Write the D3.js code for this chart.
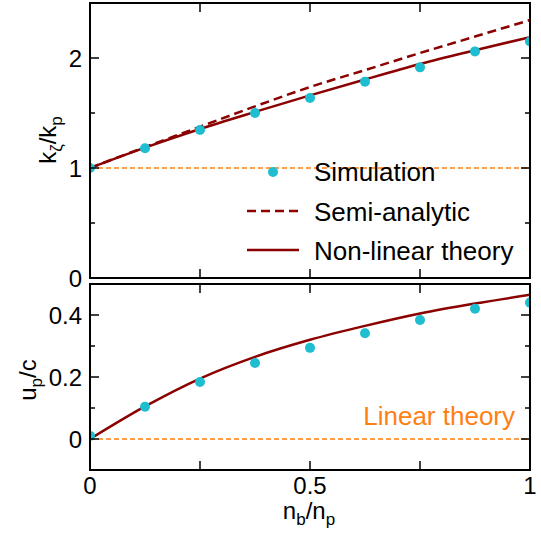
<!DOCTYPE html>
<html>
<head>
<meta charset="utf-8">
<script src="https://cdn.jsdelivr.net/npm/d3@7"></script>
<style>
  body { margin: 0; background: #fff; }
  text { font-family: "Liberation Sans", Arial, sans-serif; fill: #000; }
</style>
</head>
<body>
<svg id="vis" width="541" height="536"></svg>
<script>
// data
const nb = [0, 0.125, 0.25, 0.375, 0.5, 0.625, 0.75, 0.875, 1];
const simK = [1.0, 1.18, 1.345, 1.5, 1.636, 1.785, 1.915, 2.06, 2.15];
const simU = [0.01, 0.104, 0.184, 0.245, 0.294, 0.341, 0.384, 0.42, 0.44];
const semiK = [1.0, 1.19, 1.375, 1.56, 1.736, 1.89, 2.045, 2.195, 2.345];
const nlK = [1.0, 1.185, 1.355, 1.51, 1.66, 1.805, 1.945, 2.07, 2.19];
const nlU = [0.0, 0.105, 0.195, 0.265, 0.32, 0.365, 0.405, 0.437, 0.465];
const xTickLabels = [0, 0.5, 1];
const kTickLabels = [0, 1, 2];
const uTickLabels = [0, 0.2, 0.4];
const legendItems = ['Simulation', 'Semi-analytic', 'Non-linear theory'];

const cyan = '#1ebdcf', red = '#8b0000', orange = '#ff8012';

let vis = d3.select('#vis');

const x = d3.scaleLinear().domain([0, 1]).range([90, 530]);
const yK = d3.scaleLinear().domain([0, 2.5]).range([278, 3]);
const yU = d3.scaleLinear().domain([-0.1, 0.5]).range([470, 284]);

// one panel: clip, reference line, curves, points, frame + ticks
const drawPanel = (id, y, refVal, curves, sim, yMajor, yMinor, yLabels) => {
  const [y0, y1] = y.range();
  const g = vis.append('g').attr('id', id);

  vis.append('clipPath').attr('id', id + '-clip')
    .append('rect')
    .attr('x', x(0)).attr('y', y1)
    .attr('width', x(1) - x(0)).attr('height', y0 - y1);

  const plot = g.append('g').attr('clip-path', `url(#${id}-clip)`);

  plot.append('line')
    .attr('x1', x(0)).attr('x2', x(1))
    .attr('y1', y(refVal)).attr('y2', y(refVal))
    .attr('stroke', orange).attr('stroke-width', 1.3)
    .attr('stroke-dasharray', '5,3');

  const line = d3.line().x((d, i) => x(nb[i])).y(d => y(d)).curve(d3.curveMonotoneX);
  curves.forEach(c => {
    plot.append('path')
      .attr('d', line(c.values))
      .attr('fill', 'none')
      .attr('stroke', red)
      .attr('stroke-width', 2.5)
      .attr('stroke-dasharray', c.dash);
  });

  plot.selectAll('circle')
    .data(sim)
    .enter()
    .append('circle')
    .attr('cx', (d, i) => x(nb[i]))
    .attr('cy', d => y(d))
    .attr('r', 5)
    .attr('fill', cyan);

  // inward ticks on all four sides
  const frame = g.append('g').attr('stroke', '#000');
  const tick = (x1, y1, x2, y2, w) => frame.append('line')
    .attr('x1', x1).attr('y1', y1).attr('x2', x2).attr('y2', y2)
    .attr('stroke-width', w || 1.5);

  [0.25, 0.5, 0.75].forEach(v => {
    tick(x(v), y0, x(v), y0 - 9);
    tick(x(v), y1, x(v), y1 + 9);
  });
  yMajor.forEach(v => {
    tick(x(0), y(v), x(0) + 9, y(v));
    tick(x(1), y(v), x(1) - 9, y(v));
  });
  yMinor.forEach(v => {
    tick(x(0), y(v), x(0) + 5, y(v));
    tick(x(1), y(v), x(1) - 5, y(v));
  });

  frame.append('rect')
    .attr('x', x(0)).attr('y', y1)
    .attr('width', x(1) - x(0)).attr('height', y0 - y1)
    .attr('fill', 'none').attr('stroke-width', 2);

  g.selectAll('text.ylab')
    .data(yLabels)
    .enter()
    .append('text')
    .attr('class', 'ylab')
    .attr('x', 82)
    .attr('y', d => y(d))
    .attr('dy', '0.36em')
    .attr('text-anchor', 'end')
    .attr('font-size', 24)
    .text(d => d);

  return g;
};

drawPanel('top', yK, 1,
  [{ values: semiK, dash: '9,5' }, { values: nlK, dash: null }],
  simK, [1, 2], [0.5, 1.5], kTickLabels);

drawPanel('bottom', yU, 0,
  [{ values: nlU, dash: null }],
  simU, [0, 0.2, 0.4], [0.1, 0.3], uTickLabels);

// x tick labels
vis.selectAll('text.xlab')
  .data(xTickLabels)
  .enter()
  .append('text')
  .attr('class', 'xlab')
  .attr('x', d => x(d))
  .attr('y', 494)
  .attr('text-anchor', 'middle')
  .attr('font-size', 24)
  .text(d => d);

// axis titles
const sub = (t, main, s) => {
  t.append('tspan').text(main);
  t.append('tspan').attr('font-size', 17).attr('dy', 6).text(s);
  t.append('tspan').attr('dy', -6).text('/');
};

let xt = vis.append('text').attr('x', 309).attr('y', 519)
  .attr('text-anchor', 'middle').attr('font-size', 24);
sub(xt, 'n', 'b');
xt.append('tspan').text('n');
xt.append('tspan').attr('font-size', 17).attr('dy', 6).text('p');

let kt = vis.append('text').attr('transform', 'translate(56,140) rotate(-90)')
  .attr('text-anchor', 'middle').attr('font-size', 24);
sub(kt, 'k', 'ζ');
kt.append('tspan').text('k');
kt.append('tspan').attr('font-size', 17).attr('dy', 6).text('p');

let ut = vis.append('text').attr('transform', 'translate(36,380) rotate(-90)')
  .attr('text-anchor', 'middle').attr('font-size', 24);
sub(ut, 'u', 'p');
ut.append('tspan').text('c');

// legend
const leg = vis.append('g');
leg.append('circle').attr('cx', 273).attr('cy', 172).attr('r', 5).attr('fill', cyan);
leg.append('line').attr('x1', 247).attr('x2', 299).attr('y1', 211).attr('y2', 211)
  .attr('stroke', red).attr('stroke-width', 2.5).attr('stroke-dasharray', '9,5');
leg.append('line').attr('x1', 247).attr('x2', 299).attr('y1', 250).attr('y2', 250)
  .attr('stroke', red).attr('stroke-width', 2.5);
leg.selectAll('text')
  .data(legendItems)
  .enter()
  .append('text')
  .attr('x', 314)
  .attr('y', (d, i) => 181 + i * 39.5)
  .attr('font-size', 26)
  .text(d => d);

vis.append('text')
  .attr('x', 515).attr('y', 425)
  .attr('text-anchor', 'end')
  .attr('font-size', 26)
  .style('fill', orange)
  .text('Linear theory');
</script>
</body>
</html>
